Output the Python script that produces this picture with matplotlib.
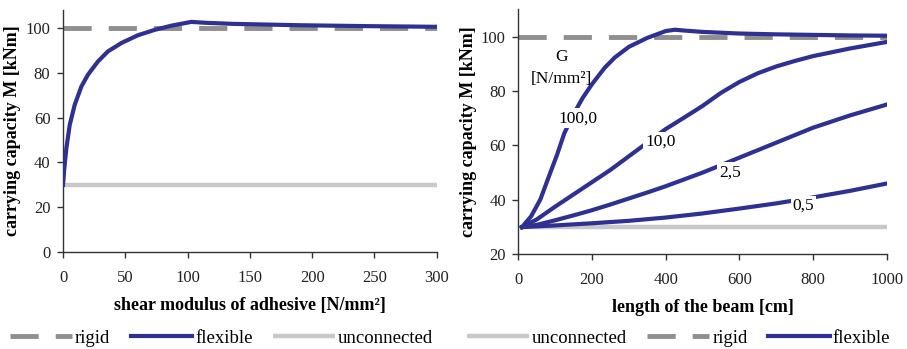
import matplotlib
matplotlib.use("Agg")
import matplotlib.pyplot as plt

plt.rcParams['font.family'] = ['Liberation Serif', 'DejaVu Serif']

# left chart: carrying capacity vs shear modulus
g_vals = [0, 1, 2.7, 5.4, 9.4, 14.8, 20, 28, 36, 47, 60, 74, 87, 103, 114, 137, 190, 244, 300]
m_flex = [30, 37, 46.3, 56.7, 65.7, 73.9, 79.1, 85, 89.5, 93.3, 96.7, 99.2, 101, 102.7, 102.3, 101.8, 101.2, 100.8, 100.5]
g_range = [0, 300]
m_rigid = [100, 100]
m_unconn = [30, 30]

# right chart: carrying capacity vs beam length, for several G
len_100 = [10, 35, 60, 80, 105, 125, 150, 175, 200, 235, 262, 300, 350, 400, 425, 450, 500, 600, 700, 800, 900, 1000]
m_100 = [30, 34, 40.2, 47.5, 56.5, 64.5, 71.5, 77.5, 82.5, 88.6, 92.3, 96.2, 99.5, 102, 102.5, 102.2, 101.7, 101.1, 100.8, 100.6, 100.4, 100.3]
len_10 = [10, 50, 100, 150, 200, 250, 300, 350, 400, 450, 500, 550, 600, 650, 700, 750, 800, 900, 1000]
m_10 = [30, 32.8, 37.5, 42, 46.5, 51, 56, 61, 66, 70.2, 74.5, 79.3, 83.3, 86.5, 89, 91, 92.8, 95.6, 98]
len_g = [10, 50, 100, 150, 200, 250, 300, 350, 400, 450, 500, 600, 700, 800, 900, 1000]
m_2_5 = [30, 30.8, 32.5, 34.3, 36.2, 38.3, 40.5, 42.7, 45, 47.5, 50, 55.5, 61, 66.5, 71, 75]
len_05 = [10, 100, 200, 300, 400, 500, 600, 700, 800, 900, 1000]
m_0_5 = [30, 30.6, 31.4, 32.3, 33.5, 35, 36.8, 38.7, 40.9, 43.3, 46]
len_unconn = [10, 1000]
len_rigid = [0, 1000]

# curve labels: text, x, y
curve_labels = [("100,0", 163, 70), ("10,0", 386, 61.3), ("2,5", 575, 50.1), ("0,5", 774, 37.7)]

NAVY = '#2e3192'
GRAY = '#8f8f8f'
LIGHT = '#c8c8c8'
DASH = (5.8, 3.5)

fig = plt.figure(figsize=(9.07, 3.49), dpi=100)
ax1 = fig.add_axes([63 / 907, 1 - 252 / 349, (436.7 - 63) / 907, (252 - 10) / 349])
ax2 = fig.add_axes([518.3 / 907, 1 - 254.3 / 349, (886.7 - 518.3) / 907, (254.3 - 9.3) / 349])

for ax in (ax1, ax2):
    for s in ('top', 'right'):
        ax.spines[s].set_visible(False)
    for s in ('left', 'bottom'):
        ax.spines[s].set_color('#333333')
        ax.spines[s].set_linewidth(1.0)
    ax.tick_params(direction='out', length=4, width=1, color='#333333',
                   labelsize=12, labelcolor='#222222')
    ax.tick_params(axis='x', pad=9)
    ax.tick_params(axis='y', pad=5)

# left
ax1.plot(g_range, m_unconn, color=LIGHT, lw=3.2, solid_capstyle='butt', label='unconnected', zorder=2)
ax1.plot(g_range, m_rigid, color=GRAY, lw=3.5, dashes=DASH, label='rigid', zorder=2)
ax1.plot(g_vals, m_flex, color=NAVY, lw=3, label='flexible', zorder=3)
ax1.set_xlim(0, 300)
ax1.set_ylim(0, 108)
ax1.set_xticks(range(0, 301, 50))
ax1.set_yticks(range(0, 101, 20))
ax1.set_xlabel('shear modulus of adhesive [N/mm²]', fontsize=13, fontweight='bold', labelpad=8)
ax1.set_ylabel('carrying capacity M [kNm]', fontsize=13, fontweight='bold', labelpad=3)

# right
ax2.plot(len_unconn, [30, 30], color=LIGHT, lw=3.2, solid_capstyle='butt', label='unconnected', zorder=2)
ax2.plot(len_rigid, [100, 100], color=GRAY, lw=3.5, dashes=DASH, label='rigid', zorder=2)
ax2.plot(len_100, m_100, color=NAVY, lw=3, label='flexible', zorder=3)
ax2.plot(len_10, m_10, color=NAVY, lw=3, zorder=3)
ax2.plot(len_g, m_2_5, color=NAVY, lw=3, zorder=3)
ax2.plot(len_05, m_0_5, color=NAVY, lw=3, zorder=3)
for txt, x, y in curve_labels:
    ax2.text(x, y, txt, fontsize=12.5, ha='center', va='center', zorder=5,
             bbox=dict(facecolor='white', edgecolor='none', pad=1.5))
ax2.text(118, 92.3, 'G', fontsize=12.5, ha='center', va='center')
ax2.text(118, 84.3, '[N/mm²]', fontsize=12.5, ha='center', va='center')
ax2.set_xlim(0, 1000)
ax2.set_ylim(20, 110)
ax2.set_xticks(range(0, 1001, 200))
ax2.set_yticks(range(20, 101, 20))
ax2.set_xlabel('length of the beam [cm]', fontsize=13, fontweight='bold', labelpad=8)
ax2.set_ylabel('carrying capacity M [kNm]', fontsize=13, fontweight='bold', labelpad=3)

leg_kw = dict(ncol=3, frameon=False, fontsize=13.5, handlelength=3.3, handletextpad=0.15,
              columnspacing=1.1, borderpad=0, borderaxespad=0, loc='center left')

h1, l1 = ax1.get_legend_handles_labels()
order1 = [1, 2, 0]
fig.legend([h1[i] for i in order1], [l1[i] for i in order1],
           bbox_to_anchor=(10 / 907, 11 / 349), **leg_kw)

h2, l2 = ax2.get_legend_handles_labels()
fig.legend(h2, l2, bbox_to_anchor=(467 / 907, 11 / 349), **leg_kw)

fig.savefig('out.png', dpi=100)
